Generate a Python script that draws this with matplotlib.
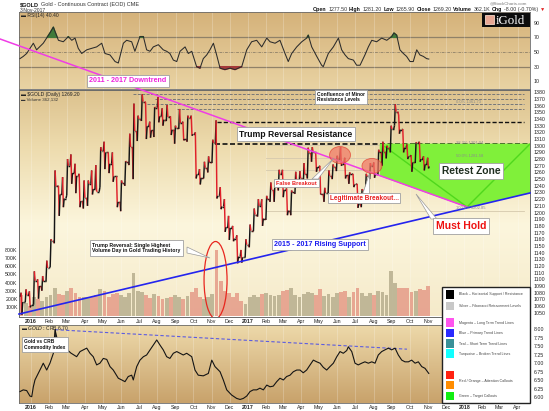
import numpy as np
import pandas as pd
import matplotlib
matplotlib.use('Agg')
import matplotlib.pyplot as plt
from matplotlib.colors import LinearSegmentedColormap
from matplotlib.patches import Rectangle, Ellipse, Polygon
from matplotlib.collections import LineCollection

plt.rcParams['font.family'] = ['Liberation Sans', 'DejaVu Sans']

# ---------------- data ----------------
# weekly bars of the continuous gold contract, weeks starting Mon 14-Dec-2015
first_week = '2015-12-14'
open0 = 1074
hi = [1080, 1085, 1082,
      1112, 1100, 1105, 1128, 1160, 1263, 1240, 1253, 1280, 1287, 1273, 1258, 1248,
      1248, 1263, 1271, 1298, 1306, 1290, 1290, 1254, 1248, 1277, 1318, 1363,
      1345, 1377, 1365, 1336, 1358, 1373, 1356, 1361, 1344, 1330, 1355, 1336, 1345, 1345,
      1320, 1265, 1276, 1284, 1309, 1338, 1238, 1220, 1195, 1180, 1166, 1144, 1160,
      1182, 1206, 1220, 1220, 1225, 1245, 1246, 1264, 1264, 1236, 1233, 1261, 1262,
      1274, 1297, 1298, 1290, 1270, 1237, 1263, 1272, 1285, 1298, 1282, 1260, 1258,
      1243, 1235, 1258, 1274, 1275, 1294, 1306, 1300, 1330, 1362, 1346, 1325, 1302,
      1286, 1305, 1306, 1284, 1282]
lo = [1047, 1066, 1058,
      1062, 1071, 1083, 1097, 1118, 1154, 1195, 1208, 1226, 1243, 1229, 1208, 1206,
      1210, 1227, 1232, 1238, 1265, 1259, 1246, 1208, 1202, 1240, 1271, 1250,
      1307, 1337, 1310, 1312, 1313, 1335, 1330, 1337, 1316, 1303, 1325, 1308, 1306, 1315,
      1251, 1242, 1251, 1260, 1274, 1221, 1205, 1171, 1159, 1157, 1124, 1125, 1133,
      1148, 1172, 1194, 1180, 1189, 1216, 1216, 1233, 1223, 1196, 1196, 1228, 1240,
      1238, 1251, 1276, 1261, 1227, 1216, 1229, 1250, 1262, 1270, 1251, 1243, 1238,
      1207, 1208, 1230, 1250, 1252, 1256, 1270, 1281, 1290, 1330, 1318, 1290, 1280,
      1261, 1274, 1276, 1263, 1266]
cl = [1066, 1076, 1061,
      1098, 1090, 1097, 1117, 1158, 1239, 1227, 1221, 1270, 1259, 1255, 1217, 1222,
      1243, 1235, 1231, 1292, 1290, 1273, 1254, 1216, 1244, 1276, 1298, 1322,
      1340, 1366, 1329, 1323, 1357, 1344, 1339, 1343, 1324, 1327, 1334, 1310, 1341, 1317,
      1257, 1252, 1267, 1275, 1304, 1225, 1209, 1178, 1177, 1161, 1134, 1133, 1152,
      1173, 1197, 1210, 1191, 1220, 1234, 1239, 1257, 1234, 1203, 1230, 1249, 1251,
      1257, 1289, 1290, 1268, 1228, 1229, 1255, 1268, 1280, 1272, 1256, 1257, 1242,
      1213, 1233, 1254, 1269, 1258, 1290, 1291, 1297, 1325, 1351, 1324, 1297, 1284,
      1275, 1304, 1280, 1272, 1269]
# peak daily volume per week, thousands of contracts
vol = [250, 150, 120,
       230, 200, 180, 220, 250, 340, 260, 250, 300, 330, 280, 230, 220,
       230, 220, 250, 320, 300, 230, 260, 280, 250, 230, 280, 520,
       300, 290, 250, 210, 260, 240, 200, 210, 230, 250, 220, 200, 240, 290,
       330, 230, 200, 220, 260, 790, 420, 300, 280, 230, 270, 180, 140,
       220, 250, 230, 260, 280, 250, 240, 250, 300, 310, 330, 250, 230,
       260, 290, 270, 250, 320, 240, 260, 230, 280, 290, 300, 220, 290,
       330, 270, 240, 280, 250, 300, 290, 250, 540, 390, 330, 340, 330,
       290, 300, 320, 310, 360]

# RSI(14): time in months since 1-Jan-2016
rsi_t = [-0.61, -0.43, -0.24, 0.13, 0.31, 0.68, 1.05, 1.24, 1.33, 1.52,
         1.79, 2.07, 2.26, 2.44, 2.62, 2.81, 3.09, 3.36, 3.64, 3.92,
         4.10, 4.38, 4.66, 4.84, 5.12, 5.30, 5.58, 5.76, 6.04, 6.23,
         6.41, 6.60, 6.78, 7.06, 7.33, 7.52, 7.70, 7.89, 8.08, 8.26,
         8.54, 8.72, 8.91, 9.18, 9.37, 9.55, 9.74, 9.92, 10.11, 10.29,
         10.48, 10.75, 11.03, 11.31, 11.49, 11.68, 11.96, 12.23, 12.51, 12.79,
         13.07, 13.25, 13.53, 13.80, 14.08, 14.26, 14.45, 14.73, 15.01, 15.28,
         15.37, 15.56, 15.84, 16.11, 16.20, 16.48, 16.76, 17.04, 17.22, 17.41,
         17.59, 17.87, 18.05, 18.24, 18.51, 18.70, 18.89, 19.16, 19.44, 19.72,
         19.99, 20.12, 20.27, 20.45, 20.64, 20.82, 21.01, 21.19, 21.38, 21.56,
         21.75, 21.93, 22.05]
rsi_v = [41, 44, 48, 62, 53, 62, 76, 84, 78, 66,
         64, 71, 66, 69, 55, 48, 53, 55, 57, 62,
         48, 46, 37, 35, 62, 66, 64, 51, 71, 71,
         53, 51, 57, 60, 53, 51, 48, 39, 37, 51,
         57, 48, 51, 30, 28, 41, 46, 53, 62, 46,
         28, 26, 28, 26, 28, 30, 53, 64, 66, 57,
         69, 64, 62, 66, 48, 37, 48, 57, 64, 69,
         73, 57, 44, 32, 30, 48, 57, 69, 53, 46,
         41, 39, 32, 32, 46, 57, 66, 64, 69, 66,
         71, 76, 73, 53, 48, 44, 37, 37, 53, 46,
         44, 41, 40.4]

# $GOLD:$CRB ratio
crb_t = [-0.61, -0.43, -0.24, -0.06, 0.04, 0.13, 0.22, 0.40, 0.59, 0.68,
         0.87, 1.05, 1.24, 1.33, 1.5, 1.8, 2.2, 2.53, 2.72, 2.90,
         3.09, 3.27, 3.45, 3.64, 3.82, 4.01, 4.20, 4.38, 4.56, 4.84,
         5.03, 5.21, 5.39, 5.58, 5.67, 5.76, 5.86, 6.04, 6.23, 6.41,
         6.60, 6.78, 6.97, 7.15, 7.33, 7.52, 7.70, 7.89, 8.08, 8.26,
         8.44, 8.63, 8.91, 9.09, 9.27, 9.55, 9.83, 10.02, 10.20, 10.48,
         10.66, 10.85, 11.12, 11.40, 11.59, 11.77, 11.96, 12.14, 12.32, 12.51,
         12.69, 12.88, 13.07, 13.25, 13.43, 13.62, 13.80, 13.99, 14.17, 14.36,
         14.54, 14.73, 14.91, 15.09, 15.28, 15.47, 15.65, 15.84, 16.02, 16.20,
         16.39, 16.57, 16.76, 16.95, 17.13, 17.31, 17.50, 17.59, 17.78, 17.96,
         18.14, 18.33, 18.51, 18.70, 18.89, 19.07, 19.25, 19.44, 19.62, 19.81,
         19.99, 20.18, 20.36, 20.55, 20.73, 20.92, 21.10, 21.29, 21.47, 21.66,
         21.84, 22.05]
crb_v = [6.17, 6.22, 6.20, 6.04, 6.02, 6.31, 6.51, 6.70, 6.90, 7.00,
         6.80, 7.00, 7.29, 7.98, 7.6, 7.5, 7.3, 7.19, 7.34, 7.39,
         7.44, 7.29, 7.19, 6.95, 7.00, 7.14, 7.11, 6.90, 6.80, 6.56,
         6.51, 6.46, 6.61, 6.65, 6.51, 6.70, 6.90, 7.09, 7.19, 7.24,
         7.39, 7.53, 7.68, 7.53, 7.39, 7.19, 7.14, 7.29, 7.34, 7.29,
         7.24, 7.29, 7.19, 6.80, 6.65, 6.63, 6.70, 7.09, 6.90, 6.75,
         6.51, 6.22, 6.07, 5.97, 5.94, 5.97, 6.04, 6.17, 6.22, 6.22,
         6.27, 6.22, 6.36, 6.31, 6.33, 6.46, 6.56, 6.51, 6.61, 6.65,
         6.75, 6.80, 6.80, 6.72, 6.80, 6.95, 7.09, 7.04, 7.00, 6.88,
         6.80, 6.90, 7.00, 7.19, 7.34, 7.29, 7.37, 7.48, 7.34, 7.00,
         6.95, 7.00, 7.04, 7.00, 7.04, 7.00, 7.24, 7.34, 7.39, 7.44,
         7.39, 7.44, 7.24, 7.09, 7.04, 7.04, 7.09, 7.00, 7.04, 6.90,
         6.85, 6.70]

# trend lines / levels drawn by the chartist (time in months, price)
downtrend_t, downtrend_p = [-1.72, 24.17], [1459.8, 1208.3]
support_t, support_p = [-0.665, 27.66], [1048.1, 1229.3]
crb_trend_t, crb_trend_v = [1.33, 20.84], [7.98, 7.41]
trump_levels = [1335.5, 1302.6]
trump_start = [10.31, 10.2]
minor_levels = [1377, 1370, 1362.5, 1355]
minor_start = [5.65, 6.87, 6.43, 8.1]
fib_levels = [1361.73, 1301.04, 1281.58, 1263.5, 1202.85]
fib_names = ['0.0%', '38.2%', '50.0%', '61.8%', '100.0%']
zone_t = [19.35, 27.66, 27.66, 24.17, 19.35]
zone_p = [1302.6, 1302.6, 1229.3, 1208.3, 1255.1]

# ---------------- layout helpers (pixel based) ----------------
W, H = 549, 411
fig = plt.figure(figsize=(W / 100, H / 100), dpi=100)


def rect(l, t, r, b):
    return [l / W, 1 - b / H, (r - l) / W, (b - t) / H]


def fp(x, y):
    return (x / W, 1 - y / H)


def gradient(ax, stops, colors):
    cmap = LinearSegmentedColormap.from_list('g', list(zip(stops, colors)))
    ax.imshow(np.linspace(0, 1, 256).reshape(-1, 1), cmap=cmap, aspect='auto',
              extent=[0, 1, 0, 1], transform=ax.transAxes, zorder=0)


XL = (-0.665, 27.66)
base = pd.Timestamp('2016-01-01')
months = pd.date_range('2016-01-01', '2018-04-01', freq='MS')
tick_t = (months - base).days / 30.44
tick_lab = [str(d.year) if d.month == 1 else d.strftime('%b') for d in months]

ax_rsi = fig.add_axes(rect(19, 12, 530, 89))
ax_vol = fig.add_axes(rect(19, 90, 530, 316.5))
ax_px = fig.add_axes(rect(19, 90, 530, 316.5))
ax_crb = fig.add_axes(rect(19, 325, 530, 403))
ax_px.set_facecolor('none')

gradient(ax_rsi, [0, 1], ['#d5b27a', '#e9d3a3'])
gradient(ax_vol, [0, 0.25, 0.6, 1], ['#dcc18d', '#eddbad', '#fcf6dd', '#f5eaca'])
gradient(ax_crb, [0, 1], ['#eedaab', '#c8a26b'])

for ax in (ax_rsi, ax_vol, ax_px, ax_crb):
    ax.set_xlim(*XL)
    ax.set_xticks(tick_t)
    ax.tick_params(length=0, labelsize=3.8, colors='#222', pad=1.5)
    for s in ax.spines.values():
        s.set_color('#6a6a6a')
        s.set_linewidth(0.6)
for ax in (ax_rsi, ax_vol, ax_crb):
    ax.grid(axis='x', color='#ffffff', alpha=0.3, lw=0.5)

# ---------------- RSI panel ----------------
ax_rsi.set_ylim(-0.45, 104.6)
ax_rsi.yaxis.tick_right()
ax_rsi.set_yticks([10, 30, 50, 70, 90])
ax_rsi.tick_params(axis='y', pad=2.5)
ax_rsi.set_xticklabels([])
ax_rsi.axhline(70, color='#8f8168', lw=0.9, zorder=1)
ax_rsi.axhline(30, color='#8f8168', lw=0.9, zorder=1)
ax_rsi.axhline(50, color='#7d7260', lw=0.5, ls=(0, (4, 1.5, 1, 1.5)), zorder=1)
rt, rv = np.array(rsi_t), np.array(rsi_v)
ax_rsi.fill_between(rt, rv, 70, where=rv > 70, interpolate=True, color='#3f7a3a', zorder=2)
ax_rsi.fill_between(rt, rv, 30, where=rv < 30, interpolate=True, color='#a33a3a', zorder=2)
ax_rsi.plot(rt, rv, color='#2b2b2b', lw=0.75, zorder=3)

# ---------------- volume ----------------
weeks = pd.date_range(first_week, periods=len(cl), freq='7D')
t0 = np.asarray((weeks - base).days / 30.44)
wk = 4.0 / 30.44
prev = [open0] + cl[:-1]
down = [c < p for c, p in zip(cl, prev)]
ax_vol.set_ylim(-10, 2730)
ax_vol.set_yticks(range(100, 900, 100))
ax_vol.set_yticklabels([f'{v}K' for v in range(100, 900, 100)])
ax_vol.tick_params(axis='y', pad=1)
ax_vol.set_xticklabels([])
ax_vol.bar(t0 + wk / 2, vol, width=0.21,
           color=['#e59b88' if d else '#b7ae8e' for d in down], alpha=0.85, zorder=2)

# ---------------- price panel ----------------
ax_px.set_ylim(1044.4, 1383.4)
ax_px.yaxis.tick_right()
ax_px.set_yticks(range(1050, 1381, 10))
ax_px.tick_params(axis='y', pad=2.5)
# labels past Nov 2017 sit under the colour key, so leave them out
ax_px.set_xticklabels([s if t < 22.6 else '' for s, t in zip(tick_lab, tick_t)])
for lab, d in zip(ax_px.get_xticklabels(), months):
    if d.month == 1:
        lab.set_fontweight('bold')

for lv in fib_levels:
    ax_px.plot([13.0, 27.3], [lv, lv], color='#d5c9ad', lw=0.6, zorder=1)
for lv, st in zip(minor_levels, minor_start):
    ax_px.plot([st, 27.3], [lv, lv], color='#777', lw=0.7, ls=(0, (3, 1.5)), zorder=1)
ax_px.plot([trump_start[0], 27.3], [trump_levels[0]] * 2, color='#111', lw=1.0,
           ls=(0, (3, 1.5)), zorder=2)
ax_px.plot([trump_start[1], 27.66], [trump_levels[1]] * 2, color='#111', lw=1.2,
           ls=(0, (3, 1.5)), zorder=2)

ax_px.add_patch(Polygon(list(zip(zone_t, zone_p)), closed=True, fc='#80f03a',
                        ec='#80f03a', lw=0.5, zorder=2))
ax_px.plot([19.62, zone_t[3], 27.66], [1298.6, zone_p[3], 1302.6], color='#4fd81c',
           lw=1.0, zorder=2.1)

# price path: week open -> extreme -> extreme -> close
xs, ys = [], []
for i in range(len(cl)):
    p = prev[i]
    path = [p, lo[i], hi[i], cl[i]] if not down[i] else [p, hi[i], lo[i], cl[i]]
    xs += list(t0[i] + np.array([0, wk / 3, 2 * wk / 3, wk]))
    ys += path
pts = np.column_stack([xs, ys])
segs = np.stack([pts[:-1], pts[1:]], axis=1)
seg_col = ['#e0202a' if s[1, 1] < s[0, 1] else '#151515' for s in segs]
ax_px.add_collection(LineCollection(segs, colors=seg_col, lw=1.05, zorder=3))

ax_px.plot(downtrend_t, downtrend_p, color='#f03ce6', lw=1.1, zorder=3.5, clip_on=False)
ax_px.plot(support_t, support_p, color='#2424ee', lw=1.2, zorder=3.5, clip_on=False)

ax_px.add_patch(Ellipse((17.13, 1286.1), 1.164, 25.4, fc='#f07462', alpha=0.7,
                        ec='#e03a2a', lw=0.6, zorder=4))
ax_px.add_patch(Ellipse((18.9, 1269.7), 1.109, 22.5, fc='#f07462', alpha=0.7,
                        ec='#e03a2a', lw=0.6, zorder=4))
ax_px.add_patch(Ellipse((10.23, 1099), 1.275, 115.3, fill=False, ec='#e8261e',
                        lw=0.9, zorder=4))

# ---------------- Gold : CRB panel ----------------
ax_crb.set_ylim(5.836, 8.117)
ax_crb.yaxis.tick_right()
ax_crb.set_yticks(np.arange(6.0, 8.01, 0.25))
ax_crb.set_yticklabels([f'{v:.2f}' for v in np.arange(6.0, 8.01, 0.25)])
ax_crb.tick_params(axis='y', pad=2.5)
ax_crb.set_xticklabels(tick_lab)
for lab, d in zip(ax_crb.get_xticklabels(), months):
    if d.month == 1:
        lab.set_fontweight('bold')
ax_crb.plot(crb_trend_t, crb_trend_v, color='#5c5ce0', lw=0.8, ls=(0, (3, 2)), zorder=2)
ax_crb.plot(crb_t, crb_v, color='#141414', lw=0.8, zorder=3)

# ---------------- header texts ----------------
renderer = fig.canvas.get_renderer()


def run(x, y, parts, size):
    for s, wt, c in parts:
        t = fig.text(*fp(x, y), s, fontsize=size, fontweight=wt, color=c, va='center')
        x += t.get_window_extent(renderer).width + 1.6


run(20, 4.5, [('$GOLD', 'bold', '#111'),
              ('Gold - Continuous Contract (EOD) CME', 'normal', '#333')], 4.0)
fig.text(*fp(20, 10), '3-Nov-2017', fontsize=3.6, color='#333', va='center')
fig.text(*fp(527, 3.5), '@StockCharts.com', fontsize=3.2, color='#777', va='center', ha='right')
run(313, 9.5, [('Open', 'bold', '#111'), ('1277.50', 'normal', '#333'),
               ('High', 'bold', '#111'), ('1281.20', 'normal', '#333'),
               ('Low', 'bold', '#111'), ('1265.90', 'normal', '#333'),
               ('Close', 'bold', '#111'), ('1269.20', 'normal', '#333'),
               ('Volume', 'bold', '#111'), ('362.1K', 'normal', '#333'),
               ('Chg', 'bold', '#111'), ('-8.00 (-0.70%)', 'normal', '#333'),
               ('▼', 'normal', '#e02020')], 3.8)

fig.add_artist(Rectangle(fp(482, 27), 48 / W, 14 / H, transform=fig.transFigure,
                         fc='#0c0c0c', ec='none', zorder=4))
fig.add_artist(Rectangle(fp(485, 24.5), 9 / W, 9 / H, transform=fig.transFigure,
                         fc='#e9a894', ec='#f6d8c8', lw=0.6, zorder=4.1))
fig.text(*fp(496, 20.5), 'iGold', family='Liberation Serif', fontsize=9.3,
         color='white', va='center', zorder=4.2)

fig.text(*fp(21, 16), '▬ RSI(14) 40.40', fontsize=3.6, color='#222', va='center')
fig.text(*fp(21, 94.8), '▬ $GOLD (Daily) 1269.20', fontsize=3.6, color='#222', va='center')
fig.text(*fp(21, 99.6), '▬ Volume 362,132', fontsize=3.2, color='#333', va='center')
fig.text(*fp(21, 327.8), '▬ $GOLD:$CRB 6.70', fontsize=3.6, color='#222', va='center')

for name, lv in zip(fib_names, fib_levels):
    if name == '61.8%':
        continue
    fig.text(*fp(456, 92.3 + (1380 - lv) * 0.668 - 2.2), f'{name} {lv:.2f}',
             fontsize=3.0, color='#8c8c8c', va='center', zorder=2.5)

# ---------------- callouts ----------------
for tri in ([(312, 179), (318, 179), (334, 158)],
            [(362, 194), (369, 194), (369, 173)],
            [(187, 247), (187, 253), (210, 258)],
            [(416, 194), (431, 219), (437, 219)]):
    fig.add_artist(Polygon([fp(*p) for p in tri], closed=True, transform=fig.transFigure,
                           fc='white', ec='#9a9a9a', lw=0.5, zorder=2.9))
fig.add_artist(plt.Line2D([55 / W, 55 / W], [1 - 329 / H, 1 - 337 / H],
                          transform=fig.transFigure, color='#111', lw=0.6, zorder=2.9))


def callout(x, y, s, size, color, ha='center', pad=0.3):
    fig.text(*fp(x, y), s, fontsize=size, fontweight='bold', color=color, ha=ha,
             va='center', linespacing=1.15, zorder=3,
             bbox=dict(boxstyle=f'square,pad={pad}', fc='white', ec='#a0a0a0', lw=0.6))


callout(128, 81, '2011 - 2017 Downtrend', 5.1, '#ee22dd')
callout(296, 134, 'Trump Reversal Resistance', 6.2, '#111')
callout(317, 97, 'Confluence of Minor\nResistance Levels', 3.5, '#111', ha='left', pad=0.45)
callout(296.5, 183, 'False Breakout', 4.1, '#e82020')
callout(364, 198, 'Legitimate Breakout...', 4.7, '#e82020')
callout(471, 171, 'Retest Zone', 7.4, '#1e2e1e')
callout(461, 226, 'Must Hold', 7.5, '#ee1111')
callout(320, 244.5, '2015 - 2017 Rising Support', 5.1, '#1a1aee')
callout(92, 248, 'Trump Reversal: Single Highest\nVolume Day in Gold Trading History', 3.7,
        '#111', ha='left', pad=0.45)
callout(24, 344.5, 'Gold vs CRB\nCommodity Index', 3.5, '#111', ha='left', pad=0.45)

# ---------------- colour key ----------------
fig.add_artist(Rectangle(fp(442, 403), 88 / W, 116 / H, transform=fig.transFigure,
                         fc='white', ec='#222', lw=1.0, zorder=5))
key_y = [294.5, 306, 322.5, 333, 343.5, 353.5, 375, 385, 396]
key_c = ['#000000', '#c8c8c8', '#ff55ee', '#2a2aff', '#3a9098', '#11ffff',
         '#ff2211', '#ff8c00', '#11ee11']
key_txt = ['Black – Horizontal Support / Resistance', 'Silver – Fibonacci Retracement Levels',
           'Magenta – Long Term Trend Lines', 'Blue – Primary Trend Lines',
           'Teal – Short Term Trend Lines', 'Turquoise – Broken Trend Lines',
           '', '', 'Green – Target Callouts']
for y, c, s in zip(key_y, key_c, key_txt):
    fig.add_artist(Rectangle(fp(445.5, y + 4.3), 8.6 / W, 8.6 / H, transform=fig.transFigure,
                             fc=c, ec='none', zorder=5.1))
    if s:
        fig.text(*fp(459, y), s, fontsize=2.6, color='#444', va='center', zorder=5.2)
fig.text(*fp(459, 380.5), 'Red / Orange – Attention Callouts', fontsize=2.6, color='#444',
         va='center', zorder=5.2)

fig.savefig('out.png', dpi=100, facecolor='white')
